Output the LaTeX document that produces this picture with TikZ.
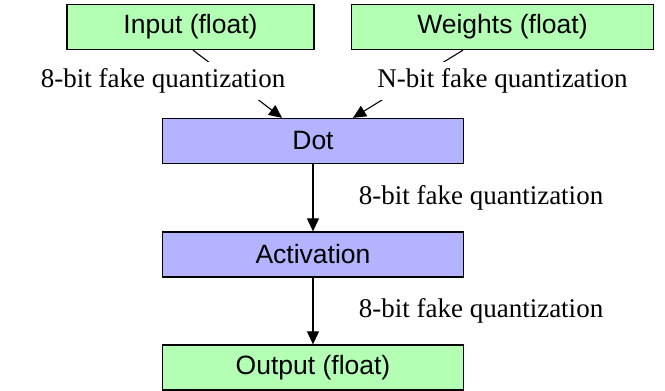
\documentclass[tikz,border=0pt]{standalone}
\usepackage{fontspec}
\setmainfont{Liberation Serif}
\newfontfamily\nodefont{Liberation Sans}
\usetikzlibrary{arrows.meta,calc}
\definecolor{boxgreen}{RGB}{179,255,179}
\definecolor{boxblue}{RGB}{179,179,255}
\tikzset{
 box/.style={draw=black, line width=1.3pt, minimum height=45pt, inner sep=0pt, font=\nodefont\fontsize{26.5}{30}\selectfont},
 greenbox/.style={box, fill=boxgreen},
 bluebox/.style={box, fill=boxblue},
 elabel/.style={font=\fontsize{27}{32}\selectfont, inner sep=0pt},
 hidelabel/.style={elabel, fill=white, minimum height=38pt},
 conn/.style={line width=1.1pt, -{Triangle[length=13pt,width=12pt]}}
}
\begin{document}
\begin{tikzpicture}[x=1pt,y=-1pt]
\useasboundingbox (0,0) rectangle (665,391);
\node[greenbox, minimum width=247pt] (in) at (190.5,27) {Input (float)};
\node[greenbox, minimum width=302pt] (w) at (502.5,27) {Weights (float)};
\node[bluebox, minimum width=301pt] (dot) at (313,141) {Dot};
\node[bluebox, minimum width=301pt] (act) at (313,254.5) {Activation};
\node[greenbox, minimum width=301pt] (out) at (313,367.5) {Output (float)};
\draw[conn] ($(in.south)+(2.5,0)$) -- ($(dot.north)+(-31,0)$);
\draw[conn] ($(w.south)+(-39.5,0)$) -- ($(dot.north)+(40,0)$);
\draw[conn] (dot) -- (act);
\draw[conn] (act) -- (out);
\node[hidelabel] (l1) at (163,81) {8-bit fake quantization};
\node[hidelabel] (l2) at (502.5,81) {N-bit fake quantization};
\node[elabel] (l3) at (481,198) {8-bit fake quantization};
\node[elabel] (l4) at (481,311) {8-bit fake quantization};
\end{tikzpicture}
\end{document}
